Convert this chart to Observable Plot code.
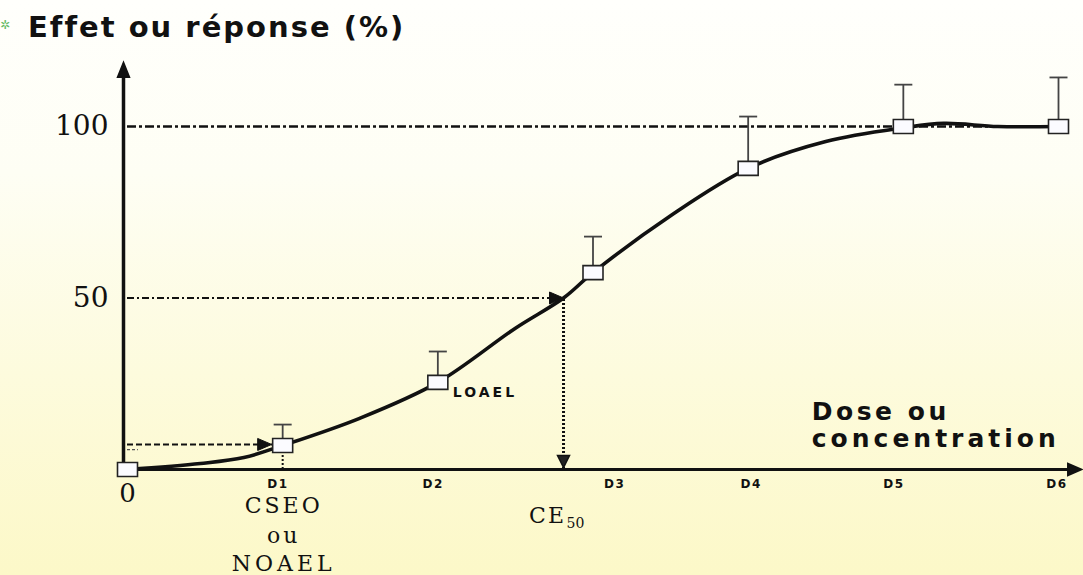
<!DOCTYPE html>
<html>
<head>
<meta charset="utf-8">
<script src="https://cdn.jsdelivr.net/npm/d3@7"></script>
<script src="https://cdn.jsdelivr.net/npm/@observablehq/plot@0.6"></script>
<style>
  html, body { margin: 0; padding: 0; }
  body {
    width: 1083px; height: 575px; overflow: hidden;
    background: linear-gradient(#fffffc 0%, #fefef4 30%, #fdfbdd 65%, #fcf8c8 100%);
  }
  #title {
    box-sizing: border-box; height: 55px; padding: 13px 0 0 28px;
    font-family: "DejaVu Sans", sans-serif; font-weight: bold; font-size: 29px;
    line-height: 1; letter-spacing: 2px; color: #111; position: relative;
  }
  #title .mark { position: absolute; left: 0; top: 19px; font-size: 12px; color: #6b6; letter-spacing: 0; }
  #chart svg { display: block; }
</style>
</head>
<body>
<div id="title"><span class="mark">✲</span>Effet ou réponse (%)</div>
<div id="chart"></div>
<script>
// ---- data ----
const categories = ["0", "D1", "D2", "D3", "D4", "D5", "D6"];
const doses = [0, 1, 2, 3, 4, 5, 6];
const response = [0, 7, 25.4, 57.4, 87.8, 100, 100];
const errorTop = [null, 13.1, 34.4, 67.9, 102.9, 112.2, 114.3];

const curveDose = [0, 0.47, 0.75, 1.0, 1.5, 2.0, 2.5, 2.81, 3.0, 3.5, 4.0, 4.5, 5.0, 5.26, 5.61, 6.0];
const curveResp = [0, 1.75, 3.5, 7.0, 15.0, 25.4, 41.2, 50, 57.4, 74.0, 87.8, 95.6, 99.6, 100.9, 100, 100];

const tickLabels = ["D1", "D2", "D3", "D4", "D5", "D6"];
const tickPos = [0.97, 1.97, 3.14, 4.02, 4.94, 5.99];
const yTicks = [100, 50];

const ce50 = 2.81;       // dose giving 50 % effect
const noaelLevel = 7.3;  // effect level at NOAEL
const plateau = 100;
const axisYMax = 118.7;
const axisXMax = 6.15;
const doseTitleX = 4.41;

const points = doses.map((d, i) => ({dose: d, cat: categories[i], resp: response[i], top: errorTop[i]}));
const errs = points.filter(p => p.top != null);
const curve = curveDose.map((d, i) => ({dose: d, resp: curveResp[i]}));
const ticks = tickLabels.map((t, i) => ({label: t, pos: tickPos[i]}));

// ---- custom symbols ----
const rectSym = {draw(c) { c.rect(-10, -7, 20, 14); }};
const capSym = {draw(c) { c.moveTo(-9, 0); c.lineTo(9, 0); }};
const triRight = {draw(c) { c.moveTo(0, 0); c.lineTo(-14, -6); c.lineTo(-14, 6); c.closePath(); }};
const triDown = {draw(c) { c.moveTo(0, 0); c.lineTo(-6, -12); c.lineTo(6, -12); c.closePath(); }};
const triUp = {draw(c) { c.moveTo(0, 0); c.lineTo(-6, 15); c.lineTo(6, 15); c.closePath(); }};

const serif = "DejaVu Serif";
const sans = "DejaVu Sans";

const label = (txt, x, y, opts) => Plot.text([txt], {x: () => x, y: () => y, text: d => d, fill: "#111", ...opts});

const chart = Plot.plot({
  width: 1083,
  height: 520,
  x: {domain: [0, 6], range: [127, 1058], axis: null},
  y: {domain: [0, 100], range: [414, 71], axis: null},
  style: {background: "transparent", overflow: "visible", color: "#111"},
  marks: [
    // reference lines
    Plot.ruleY([plateau], {x1: 0, x2: 6, stroke: "#111", strokeWidth: 2.6, strokeDasharray: "9,3,3,3"}),
    Plot.ruleY([50], {x1: 0, x2: ce50, stroke: "#111", strokeWidth: 2, strokeDasharray: "7,3,2,3"}),
    Plot.ruleY([noaelLevel], {x1: 0, x2: 1, stroke: "#111", strokeWidth: 2, strokeDasharray: "6,3"}),
    Plot.ruleY([noaelLevel - 1.5], {x1: 0, x2: 0.07, stroke: "#555", strokeWidth: 1.2, strokeDasharray: "3,2"}),
    Plot.ruleX([ce50], {y1: 0, y2: 50, stroke: "#111", strokeWidth: 3, strokeDasharray: "2,2"}),
    Plot.ruleX([1], {y1: 0, y2: noaelLevel, stroke: "#111", strokeWidth: 2, strokeDasharray: "2,2"}),
    // arrowheads of reference lines
    Plot.dot([{x: ce50, y: 50}], {x: "x", y: "y", symbol: triRight, fill: "#111", stroke: "#111", strokeWidth: 1}),
    Plot.dot([{x: ce50, y: 0}], {x: "x", y: "y", symbol: triDown, fill: "#222", stroke: "#111", strokeWidth: 1.5, dy: -2}),
    Plot.dot([{x: 1, y: noaelLevel}], {x: "x", y: "y", symbol: triRight, fill: "#111", stroke: "#111", strokeWidth: 1, dx: -11}),
    // axes
    Plot.ruleX([0], {y1: 0, y2: axisYMax - 3, dx: -4, stroke: "#111", strokeWidth: 3.5}),
    Plot.ruleY([0], {x1: 0, x2: axisXMax - 0.06, dx: -4, stroke: "#111", strokeWidth: 3}),
    Plot.dot([{x: 0, y: axisYMax}], {x: "x", y: "y", symbol: triUp, fill: "#111", stroke: "#111", dx: -4}),
    Plot.dot([{x: axisXMax, y: 0}], {x: "x", y: "y", symbol: triRight, fill: "#111", stroke: "#111"}),
    // error bars
    Plot.ruleX(errs, {x: "dose", y1: "resp", y2: "top", stroke: "#444", strokeWidth: 1.8}),
    Plot.dot(errs, {x: "dose", y: "top", symbol: capSym, fill: "none", stroke: "#444", strokeWidth: 1.8}),
    // fitted curve
    Plot.line(curve, {x: "dose", y: "resp", curve: "catmull-rom", stroke: "#111", strokeWidth: 3.6}),
    // data squares
    Plot.dot(points, {x: "dose", y: "resp", symbol: rectSym, fill: "#fbfbff", stroke: "#222", strokeWidth: 1.6}),
    // y tick labels
    Plot.text(yTicks, {x: () => 0, y: d => d, text: d => String(d), textAnchor: "end", dx: -19,
      fontFamily: serif, fontSize: 28, fill: "#111"}),
    // origin label
    label("0", 0, 0, {dy: 24, fontFamily: serif, fontSize: 26}),
    // x tick labels
    Plot.text(ticks, {x: "pos", y: () => 0, text: "label", dy: 15, fontFamily: sans, fontWeight: "bold",
      fontSize: 12, fill: "#111"}),
    // CSEO ou NOAEL
    label("CSEO", 1, 0, {dy: 36, dx: 1, fontFamily: serif, fontSize: 22}),
    label("ou", 1, 0, {dy: 66, dx: 1, fontFamily: serif, fontSize: 22}),
    label("NOAEL", 1, 0, {dy: 94, dx: 1, fontFamily: serif, fontSize: 22}),
    // CE50
    label("CE", ce50, 0, {dx: -16, dy: 46, fontFamily: serif, fontSize: 22}),
    label("50", ce50, 0, {dx: 12, dy: 54, fontFamily: serif, fontSize: 14}),
    // LOAEL
    label("LOAEL", 2, response[2], {textAnchor: "start", dx: 15, dy: 10,
      fontFamily: sans, fontWeight: "bold", fontSize: 14}),
    // x axis title
    label("Dose ou", doseTitleX, 0, {textAnchor: "start", dy: -58, fontFamily: sans, fontWeight: "bold", fontSize: 25}),
    label("concentration", doseTitleX, 0, {textAnchor: "start", dy: -31, fontFamily: sans, fontWeight: "bold", fontSize: 25})
  ]
});
document.getElementById("chart").appendChild(chart);

// letter spacing tweaks (the reference lettering is wide)
const spacing = {
  "D1": "1.5px", "D2": "1.5px", "D3": "1.5px", "D4": "1.5px", "D5": "1.5px", "D6": "1.5px",
  "CSEO": "3px", "ou": "3px", "NOAEL": "4px", "CE": "2px", "LOAEL": "3px",
  "Dose ou": "3.5px", "concentration": "4px"
};
chart.querySelectorAll("text").forEach(t => {
  const v = spacing[t.textContent];
  if (v) t.style.letterSpacing = v;
});
</script>
</body>
</html>
